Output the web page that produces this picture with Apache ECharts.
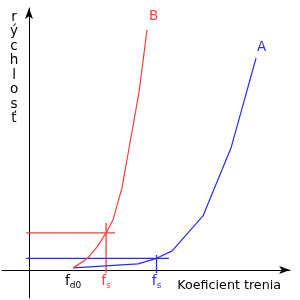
<!DOCTYPE html>
<html>
<head>
<meta charset="utf-8">
<script src="https://cdn.jsdelivr.net/npm/echarts@6/dist/echarts.min.js"></script>
<style>html,body{margin:0;padding:0;background:#fff}#c{width:300px;height:300px}</style>
</head>
<body>
<div id="c"></div>
<script>
// Schematic curves: x = friction coefficient (arbitrary units), y = speed (arbitrary units)
const curveA = [[0.167,0.008],[0.413,0.023],[0.483,0.044],[0.542,0.072],[0.659,0.204],[0.765,0.460],[0.860,0.800]];
const curveB = [[0.167,0.008],[0.220,0.042],[0.258,0.087],[0.292,0.140],[0.318,0.189],[0.352,0.309],[0.383,0.483],[0.417,0.672],[0.447,0.906]];
const guideBh = [[-0.011,0.140],[0.326,0.140]];
const guideBv = [[0.292,0.177],[0.292,-0.011]];
const guideAh = [[-0.011,0.044],[0.530,0.044]];
const guideAv = [[0.483,0.057],[0.483,-0.011]];
const tickValues = [0.167, 0.292, 0.483];
const tickMain = ['f','f','f'];
const tickSub = ['d0','s','s'];
const seriesNames = ['A','B'];
const xName = 'Koeficient trenia';
const yName = 'rýchlosť';

const RED = '#ff3c3c', BLUE = '#2b2bff';
const tickColors = ['#000000', RED, BLUE];
const rich = {};
tickValues.forEach((v,i)=>{
  rich['f'+i] = {fontFamily:'DejaVu Sans', fontSize:14, color:tickColors[i], lineHeight:16, verticalAlign:'top'};
  rich['s'+i] = {fontFamily:'DejaVu Sans', fontSize:9, color:tickColors[i], lineHeight:9, verticalAlign:'bottom', padding:[11,0,0,0]};
});
function tickIndex(v){ return tickValues.findIndex(t => Math.abs(t - Number(v)) < 1e-6); }

const X_MIN = -0.1023, X_MAX = 0.9886, Y_MIN = -0.1057, Y_MAX = 0.9887;
const chart = echarts.init(document.getElementById('c'), null, {renderer:'canvas'});
function lineSeries(name, data, color, width, label) {
  return {
    type:'line', name, data, showSymbol:false, symbol:'none', silent:true,
    lineStyle:{color, width}, itemStyle:{color},
    endLabel: label ? {show:true, color, fontFamily:'DejaVu Sans', fontSize:13.5,
      offset: label.offset, formatter: name} : {show:false},
    z: 3, animation:false
  };
}
chart.setOption({
  animation:false,
  grid:{left:2, right:10, top:8, bottom:2, containLabel:false, outerBoundsMode:'none'},
  xAxis:[{
    type:'value', min:X_MIN, max:X_MAX,
    splitLine:{show:false}, axisTick:{show:false}, axisLabel:{show:false},
    axisLine:{onZero:true, lineStyle:{color:'#000', width:1}, symbol:['none','arrow'], symbolSize:[6,11]},
    name:xName, nameLocation:'end', nameGap:-9,
    nameTextStyle:{fontFamily:'DejaVu Sans', fontSize:12.7, color:'#000', align:'right', verticalAlign:'top', lineHeight:14, padding:[9,0,0,0]}
  },{
    type:'value', min:X_MIN, max:X_MAX, position:'bottom', offset:-28,
    splitLine:{show:false}, axisTick:{show:false}, axisLine:{show:false, onZero:false},
    axisLabel:{
      customValues: tickValues, margin:4, showMinLabel:true, showMaxLabel:true, hideOverlap:false,
      formatter:(v)=>{ const i = tickIndex(v); return i < 0 ? '' : '{f'+i+'|'+tickMain[i]+'}{s'+i+'|'+tickSub[i]+'}'; },
      rich
    }
  }],
  yAxis:{
    type:'value', min:Y_MIN, max:Y_MAX,
    splitLine:{show:false}, axisTick:{show:false}, axisLabel:{show:false},
    axisLine:{onZero:true, lineStyle:{color:'#000', width:1}, symbol:['none','arrow'], symbolSize:[6,11]},
    name: yName.split('').join('\n'), nameLocation:'end', nameGap:-2,
    nameTextStyle:{fontFamily:'DejaVu Sans', fontSize:13.5, color:'#000', align:'center', verticalAlign:'top', lineHeight:14.5, padding:[0,30,0,0]}
  },
  series:[
    lineSeries('guideBh', guideBh, RED, 1.3),
    lineSeries('guideBv', guideBv, RED, 1.3),
    lineSeries('guideAh', guideAh, BLUE, 1.2),
    lineSeries('guideAv', guideAv, BLUE, 1.3),
    lineSeries(seriesNames[0], curveA, BLUE, 1.2, {offset:[-7,-11]}),
    lineSeries(seriesNames[1], curveB, RED, 1.2, {offset:[-6,-13]})
  ]
});
</script>
</body>
</html>
